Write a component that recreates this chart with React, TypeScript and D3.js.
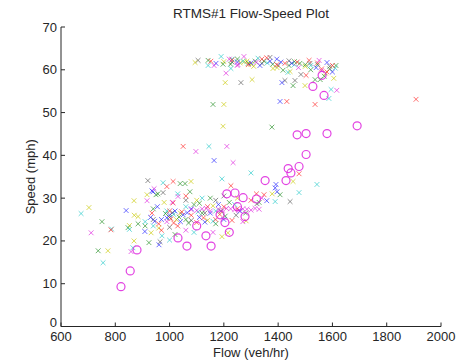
import React from "react";
import * as d3 from "d3";

type P = [number, number];

const xTicks = [600, 800, 1000, 1200, 1400, 1600, 1800, 2000];
const yTicks = [0, 10, 20, 30, 40, 50, 60, 70];

const redPts: P[] = [
  [1152, 62], [1230, 62.3], [1358, 62.8], [1425, 61.5], [1514, 62.2], [1503, 58.7], [1560, 60.2], [1580, 59.5],
  [1470, 61.8], [1290, 61.2], [1340, 62.5], [1600, 61], [1395, 61.2], [1545, 61.6],
  [1432, 52.6], [1536, 51.9], [1908, 53.1], [1050, 42.1], [1477, 35.7], [1348, 30.8], [1226, 32.9],
  [990, 32.7], [1013, 33.9], [1013, 28.9], [784, 22.6], [1080, 26], [960, 24], [1140, 28], [1000, 27], [1170, 25],
  [1060, 30.5], [1200, 28], [935, 26.5], [1100, 24.3], [1030, 23.5], [1250, 27.5], [1300, 29.5], [1320, 31],
  [1230, 24.8], [970, 22.5], [1005, 25.2], [1015, 24.2], [1045, 26.8], [1125, 25.4], [1185, 26.2],
];

const greenPts: P[] = [
  [1142, 62.2], [1197, 61.3], [1225, 61.3], [1290, 61.5], [1315, 62], [1380, 61.3], [1418, 59.9], [1440, 61],
  [1480, 61.5], [1536, 57.7], [1555, 57.7], [1545, 61.2], [1613, 61], [1590, 60.2], [1520, 60], [1570, 58.5],
  [1250, 62.5], [1348, 62], [1460, 61.9], [1500, 61.2],
  [1160, 51.9], [1377, 46.6], [1455, 56.3], [1407, 30.8],
  [957, 31], [751, 24.5], [884, 24], [924, 19.6], [737, 17.7], [847, 23.1], [950, 30.8], [1039, 33.4], [1057, 33.4],
  [1075, 31.5], [1090, 28.5], [1000, 25.5], [1120, 26.5], [1170, 24], [1190, 27], [940, 27.5], [1060, 25], [1220, 29],
  [1150, 30], [910, 23.5], [1280, 26.5], [1330, 29], [1020, 21.5], [1035, 25.6], [1070, 24.2], [1110, 28.8],
  [985, 26.4], [1205, 25.8],
];

const bluePts: P[] = [
  [1171, 61.5], [1250, 61.8], [1333, 61], [1370, 62], [1395, 62.5], [1450, 61.5], [1540, 60.5], [1580, 61.7],
  [1600, 59.5], [1300, 61.6], [1410, 61.8],
  [1407, 52.6], [1414, 57], [1164, 38.8], [1389, 32.4], [1396, 31.5], [1358, 29.4], [1392, 33.2],
  [935, 31.7], [840, 27.1], [939, 31.5], [909, 22.2], [961, 19.1], [1050, 26.1], [930, 25.5], [970, 25], [1000, 26],
  [1040, 24.5], [1080, 27.5], [1110, 25.5], [1150, 26.5], [1180, 28.5], [1200, 25], [1260, 27], [955, 28], [1020, 27],
  [945, 24.6], [1065, 26.6], [1130, 24.4], [990, 25.4],
];

const cyanPts: P[] = [
  [1142, 61], [1190, 63.1], [1226, 60.3], [1230, 62.5], [1326, 62.7], [1360, 61.6], [1436, 59.4], [1460, 61.2],
  [1587, 53.3], [1595, 55.4], [1520, 61], [1270, 62], [1610, 60.4],
  [1145, 42.1], [1300, 35.9], [1543, 33.2], [1477, 31.3], [1389, 29.2], [1193, 34.5],
  [674, 26.4], [976, 33.6], [972, 21.2], [865, 18.4], [755, 14.9], [786, 22.8], [852, 22.7], [910, 24.5], [990, 27],
  [1060, 28], [1120, 30], [1000, 20.2], [1090, 22], [940, 23.5], [1170, 27], [1240, 28.5], [1030, 31],
  [1015, 26.2], [1105, 26.8], [1160, 24.6],
];

const magentaPts: P[] = [
  [1164, 61], [1208, 59.2], [1220, 62.5], [1249, 61], [1252, 61.2], [1274, 63.1], [1475, 60.5], [1551, 62.2],
  [1616, 55.2], [1560, 59.8], [1320, 61.8],
  [1097, 40.9], [1211, 42.1], [1234, 38.3],
  [943, 32.2], [917, 29.4], [711, 21.9], [858, 17.5], [1031, 30.4], [1080, 27.3], [1120, 27.5], [1150, 27],
  [1180, 27.4], [1210, 27.6], [1240, 27.3], [1270, 27.5], [1300, 27.2], [1330, 27.4], [990, 24.5], [1060, 22.5],
  [1160, 22], [1270, 24.5], [1340, 30], [1010, 29], [1100, 27.1], [1135, 27.6], [1195, 27.2], [1225, 27.5],
  [1255, 27.1], [1285, 27.4], [1315, 27.6],
];

const yellowPts: P[] = [
  [1094, 61.7], [1260, 61.6], [1285, 62], [1300, 61.3], [1310, 60.8], [1381, 60.3], [1396, 60.5], [1444, 59.6],
  [1500, 60.8], [1575, 59.2], [1605, 58], [1200, 61.9], [1275, 61.9],
  [1200, 51.9], [1205, 57], [1304, 57.7], [1499, 56.3], [1197, 46.8], [1455, 33.9], [1378, 31],
  [703, 27.8], [869, 29.4], [917, 30.8], [884, 25.7], [852, 23.6], [773, 17.7], [869, 20], [932, 21.9], [1079, 33.9],
  [1215, 21.9], [1193, 21], [1282, 24.7], [980, 29], [1040, 26.5], [1140, 24.8], [1100, 29.5], [1250, 30], [960, 23],
  [870, 26], [1025, 25], [1160, 28.2],
];

const grayPts: P[] = [
  [1105, 62.2], [1370, 62.9], [1517, 61.5], [1484, 58.9], [1425, 57.5], [1462, 57.5], [1263, 57], [1340, 61.5],
  [1400, 61], [1590, 60.8], [1230, 61.8], [1440, 62.1],
  [1444, 29.2], [1322, 28.7],
  [920, 34.1], [976, 31.3], [965, 19.8], [1060, 29.5], [1130, 26.5], [1000, 23.2], [1200, 30.5], [940, 25],
  [1080, 24.8], [1170, 29.5], [1245, 26], [1010, 26.6],
];

const circlePts: P[] = [
  [821, 9.3], [855, 13], [880, 17.9], [1031, 20.7], [1064, 18.8], [1134, 21.2], [1153, 18.8], [1186, 26.1],
  [1204, 24.3], [1278, 25.7], [1211, 31], [1241, 31.2], [1271, 30.1], [1352, 34.1], [1429, 34.1], [1447, 35.9],
  [1437, 36.9], [1477, 37.4], [1503, 40.2], [1470, 44.8], [1503, 45.1], [1580, 45.1], [1691, 46.9], [1528, 56.1],
  [1562, 58.7], [1569, 54], [1320, 29.8], [1250, 28], [1100, 23.5], [1220, 22],
];

const crossSeries: { pts: P[]; color: string }[] = [
  { pts: grayPts, color: "#555555" },
  { pts: yellowPts, color: "#c8c800" },
  { pts: greenPts, color: "#1e8c1e" },
  { pts: cyanPts, color: "#1ec8c8" },
  { pts: bluePts, color: "#2020ff" },
  { pts: redPts, color: "#ff2020" },
  { pts: magentaPts, color: "#dd22dd" },
];

const W = 462;
const H = 364;
const left = 61;
const right = 441;
const top = 27;
const bottom = 326.5;

export default function App() {
  const x = d3.scaleLinear().domain([600, 2000]).range([left, right]);
  const y = d3.scaleLinear().domain([0, 70]).range([bottom, top]);
  const font = "'Liberation Sans', Arial, Helvetica, sans-serif";
  const s = 2.4;
  return (
    <svg width={W} height={H} style={{ position: "absolute", left: 0, top: 0, background: "#fff" }}>
      <rect width={W} height={H} fill="#fff" />
      {crossSeries.map((ser, i) => (
        <g key={i} stroke={ser.color} strokeOpacity={0.65} strokeWidth={1}>
          {ser.pts.map((p, j) => {
            const cx = x(p[0]);
            const cy = y(p[1]);
            return (
              <path key={j} d={`M${cx - s},${cy - s}L${cx + s},${cy + s}M${cx - s},${cy + s}L${cx + s},${cy - s}`} />
            );
          })}
        </g>
      ))}
      <g fill="none" stroke="#dd22dd" strokeOpacity={0.85} strokeWidth={1.2}>
        {circlePts.map((p, j) => (
          <circle key={j} cx={x(p[0])} cy={y(p[1])} r={4} />
        ))}
      </g>
      <g stroke="#262626" strokeWidth={1} fill="none">
        <line x1={left} x2={left} y1={top} y2={bottom} />
        <line x1={left} x2={right} y1={bottom} y2={bottom} />
        {xTicks.map((t) => (
          <line key={t} x1={x(t)} x2={x(t)} y1={bottom} y2={bottom - 4} />
        ))}
        {yTicks.map((t) => (
          <line key={t} x1={left} x2={left + 4} y1={y(t)} y2={y(t)} />
        ))}
      </g>
      <g fontFamily={font} fontSize={13} fill="#262626">
        {xTicks.map((t) => (
          <text key={t} x={x(t)} y={bottom + 14.5} textAnchor="middle">
            {t}
          </text>
        ))}
        {yTicks.map((t) => (
          <text key={t} x={left - 4} y={y(t) + (t === 0 ? 0.5 : 4.5)} textAnchor="end">
            {t}
          </text>
        ))}
        <text x={(left + right) / 2} y={357} textAnchor="middle">
          Flow (veh/hr)
        </text>
        <text transform={`translate(35,${(top + bottom) / 2}) rotate(-90)`} textAnchor="middle">
          Speed (mph)
        </text>
        <text x={(left + right) / 2} y={18} textAnchor="middle" fontSize={13.5}>
          RTMS#1 Flow-Speed Plot
        </text>
      </g>
    </svg>
  );
}
